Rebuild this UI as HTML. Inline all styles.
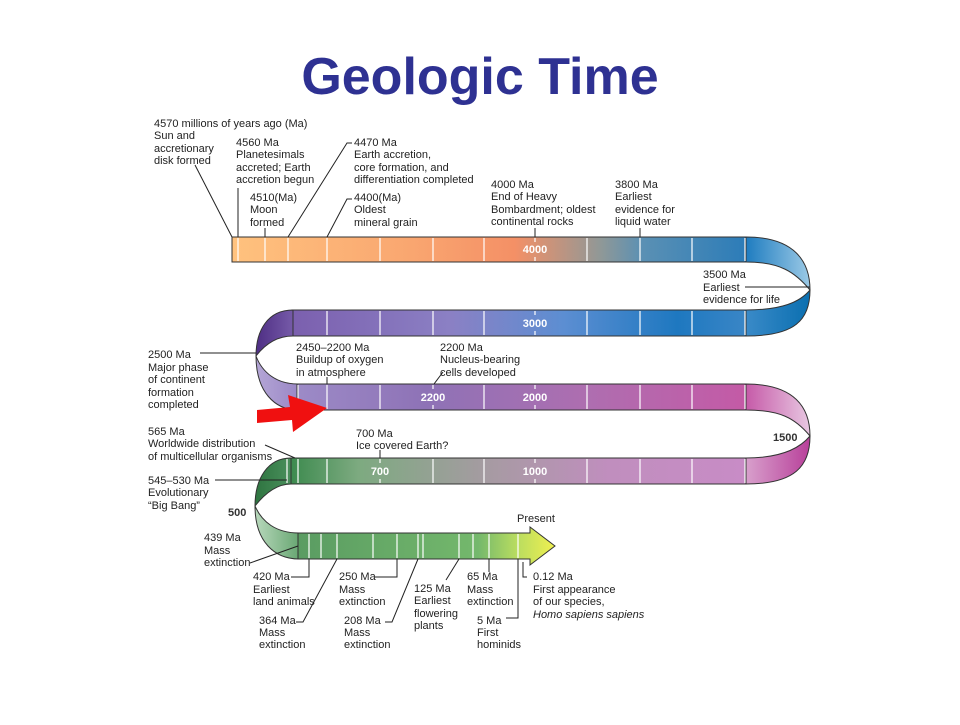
<!DOCTYPE html>
<html><head><meta charset="utf-8"><style>
html,body{margin:0;padding:0;background:#fff;}
svg text{font-family:"Liberation Sans",sans-serif;}
</style></head><body>
<svg width="960" height="720" viewBox="0 0 960 720" xmlns="http://www.w3.org/2000/svg">
<defs>
<linearGradient id="g1" gradientUnits="userSpaceOnUse" x1="232" y1="0" x2="746" y2="0">
<stop offset="0" stop-color="#FFC27E"/><stop offset="0.35" stop-color="#F9A670"/><stop offset="0.55" stop-color="#F49066"/><stop offset="0.72" stop-color="#8E9898"/><stop offset="0.8" stop-color="#5A90B4"/><stop offset="1" stop-color="#2C7CB8"/></linearGradient>
<linearGradient id="g1c" gradientUnits="userSpaceOnUse" x1="746" y1="0" x2="810" y2="0">
<stop offset="0" stop-color="#1E7CC0"/><stop offset="1" stop-color="#9CCAE6"/></linearGradient>
<linearGradient id="g2c" gradientUnits="userSpaceOnUse" x1="746" y1="0" x2="810" y2="0">
<stop offset="0" stop-color="#3A8AC8"/><stop offset="1" stop-color="#0A6FB0"/></linearGradient>
<linearGradient id="g2" gradientUnits="userSpaceOnUse" x1="290" y1="0" x2="746" y2="0">
<stop offset="0" stop-color="#7B5FAE"/><stop offset="0.35" stop-color="#8B80C4"/><stop offset="0.6" stop-color="#5C8ED2"/><stop offset="0.85" stop-color="#1E78C0"/><stop offset="1" stop-color="#3A86C6"/></linearGradient>
<linearGradient id="gl1" gradientUnits="userSpaceOnUse" x1="256" y1="0" x2="297" y2="0">
<stop offset="0" stop-color="#4E2E84"/><stop offset="1" stop-color="#7A5FAC"/></linearGradient>
<linearGradient id="gl2" gradientUnits="userSpaceOnUse" x1="256" y1="0" x2="297" y2="0">
<stop offset="0" stop-color="#B4A6D6"/><stop offset="1" stop-color="#9B88C6"/></linearGradient>
<linearGradient id="g3" gradientUnits="userSpaceOnUse" x1="290" y1="0" x2="746" y2="0">
<stop offset="0" stop-color="#9D8CC8"/><stop offset="0.3" stop-color="#8E72B6"/><stop offset="0.65" stop-color="#AE6EB0"/><stop offset="1" stop-color="#C45AA6"/></linearGradient>
<linearGradient id="g3c" gradientUnits="userSpaceOnUse" x1="746" y1="0" x2="810" y2="0">
<stop offset="0" stop-color="#C65AA8"/><stop offset="1" stop-color="#E8C8E2"/></linearGradient>
<linearGradient id="g4c" gradientUnits="userSpaceOnUse" x1="746" y1="0" x2="810" y2="0">
<stop offset="0" stop-color="#D8A0CC"/><stop offset="1" stop-color="#B8409A"/></linearGradient>
<linearGradient id="g4" gradientUnits="userSpaceOnUse" x1="290" y1="0" x2="746" y2="0">
<stop offset="0" stop-color="#3C8A4E"/><stop offset="0.15" stop-color="#7DAA80"/><stop offset="0.45" stop-color="#A89AA4"/><stop offset="0.7" stop-color="#C08EBE"/><stop offset="1" stop-color="#C88CC6"/></linearGradient>
<linearGradient id="gl3" gradientUnits="userSpaceOnUse" x1="255" y1="0" x2="297" y2="0">
<stop offset="0" stop-color="#2E7440"/><stop offset="1" stop-color="#4E9460"/></linearGradient>
<linearGradient id="gl4" gradientUnits="userSpaceOnUse" x1="255" y1="0" x2="298" y2="0">
<stop offset="0" stop-color="#B8D8BC"/><stop offset="1" stop-color="#6AA874"/></linearGradient>
<linearGradient id="g5" gradientUnits="userSpaceOnUse" x1="298" y1="0" x2="555" y2="0">
<stop offset="0" stop-color="#5A9C62"/><stop offset="0.7" stop-color="#74B86C"/><stop offset="0.85" stop-color="#B8DC60"/><stop offset="1" stop-color="#F0F050"/></linearGradient>
</defs>

<text x="480" y="94" text-anchor="middle" font-size="52" font-weight="bold" fill="#2E3192">Geologic Time</text>

<g stroke="#333" stroke-width="1">
<rect x="232" y="237" width="514" height="25" fill="url(#g1)"/>
<path d="M746,237 C795,237 810,262 810,290 C795,272 780,262 746,262 Z" fill="url(#g1c)"/>
<path d="M810,290 C810,320 795,336 746,336 L746,310 C782,310 800,302 810,290 Z" fill="url(#g2c)"/>
<rect x="292" y="310" width="454" height="26" fill="url(#g2)"/>
<path d="M293,310 C268,310 256,330 256,356 C266,343 278,336 293,336 Z" fill="url(#gl1)"/>
<path d="M256,356 C256,392 275,410 298,410 L298,384 C276,384 262,372 256,356 Z" fill="url(#gl2)"/>
<rect x="297" y="384" width="449" height="26" fill="url(#g3)"/>
<path d="M746,384 C795,384 810,408 810,436 C795,418 780,410 746,410 Z" fill="url(#g3c)"/>
<path d="M810,436 C810,466 795,484 746,484 L746,458 C782,458 800,448 810,436 Z" fill="url(#g4c)"/>
<rect x="290" y="458" width="456" height="26" fill="url(#g4)"/>
<path d="M291,458 C268,458 255,478 255,506 C266,492 278,484 291,484 Z" fill="url(#gl3)"/>
<path d="M255,506 C255,542 275,559 299,559 L299,533 C276,533 262,522 255,506 Z" fill="url(#gl4)"/>
<path d="M298,533 L530,533 L530,527 L555,546 L530,565 L530,559 L298,559 Z" fill="url(#g5)"/>
</g>

<g stroke="#fff" stroke-width="1.2">
<path d="M238,238V261M265,238V261M288,238V261M327,238V261M380,238V261M433,238V261M484,238V261M587,238V261M640,238V261M692,238V261M745,238V261"/>
<path d="M327,311V335M380,311V335M433,311V335M484,311V335M587,311V335M640,311V335M692,311V335M745,311V335"/>
<path d="M298,385V409M327,385V409M380,385V409M484,385V409M587,385V409M640,385V409M692,385V409M745,385V409"/>
<path d="M287,459V483M298,459V483M327,459V483M433,459V483M484,459V483M587,459V483M640,459V483M692,459V483M745,459V483"/>
<path d="M309,534V558M321,534V558M337,534V558M373,534V558M397,534V558M418,534V558M423,534V558M459,534V558M473,534V558M489,534V558M518,534V558"/>
<path d="M535,238V242M535,257V261M535,311V315M535,331V335M433,385V389M433,405V409M535,385V389M535,405V409M380,459V463M380,479V483M535,459V463M535,479V483"/>
</g>
<g fill="#fff" font-size="11" font-weight="bold" text-anchor="middle">
<text x="535" y="253">4000</text><text x="535" y="327">3000</text>
<text x="433" y="401">2200</text><text x="535" y="401">2000</text>
<text x="380" y="475">700</text><text x="535" y="475">1000</text>
</g>

<polygon points="257,410 290,407 288,395 327,408 293,432 292,420 257,423" fill="#F01010"/>

<g stroke="#222" stroke-width="1" fill="none">
<path d="M195,165 L232,237"/>
<path d="M238,188 V237"/>
<path d="M352,143 H347 L288,237"/>
<path d="M352,199 H347 L327,237"/>
<path d="M265,228 V237"/>
<path d="M535,228 V237"/><path d="M640,228 V237"/>
<path d="M745,287 H810"/>
<path d="M200,353 H256"/>
<path d="M327,377 V384"/>
<path d="M443,372 L434,384"/>
<path d="M265,445 L295,458"/>
<path d="M380,450 V458"/>
<path d="M215,480 H287"/>
<path d="M250,563 L298,546"/>
<path d="M291,577 H309 V559"/>
<path d="M296,622 H303 L337,559"/>
<path d="M375,577 H397 V559"/>
<path d="M385,622 H392 L418,559"/>
<path d="M446,580 L459,559"/>
<path d="M489,559 V572"/>
<path d="M506,618 H518 V559"/>
<path d="M523,562 V577 H527"/>
</g>

<g fill="#222" font-size="11">
<text x="154" y="127">4570 millions of years ago (Ma)</text>
<text x="154" y="139">Sun and</text><text x="154" y="152">accretionary</text><text x="154" y="164">disk formed</text>
<text x="236" y="146">4560 Ma</text><text x="236" y="158">Planetesimals</text><text x="236" y="171">accreted; Earth</text><text x="236" y="183">accretion begun</text>
<text x="354" y="146">4470 Ma</text><text x="354" y="158">Earth accretion,</text><text x="354" y="171">core formation, and</text><text x="354" y="183">differentiation completed</text>
<text x="250" y="201">4510(Ma)</text><text x="250" y="213">Moon</text><text x="250" y="226">formed</text>
<text x="354" y="201">4400(Ma)</text><text x="354" y="213">Oldest</text><text x="354" y="226">mineral grain</text>
<text x="491" y="188">4000 Ma</text><text x="491" y="200">End of Heavy</text><text x="491" y="213">Bombardment; oldest</text><text x="491" y="225">continental rocks</text>
<text x="615" y="188">3800 Ma</text><text x="615" y="200">Earliest</text><text x="615" y="213">evidence for</text><text x="615" y="225">liquid water</text>
<text x="703" y="278">3500 Ma</text><text x="703" y="291">Earliest</text><text x="703" y="303">evidence for life</text>
<text x="148" y="358">2500 Ma</text><text x="148" y="371">Major phase</text><text x="148" y="383">of continent</text><text x="148" y="396">formation</text><text x="148" y="408">completed</text>
<text x="296" y="351">2450–2200 Ma</text><text x="296" y="363">Buildup of oxygen</text><text x="296" y="376">in atmosphere</text>
<text x="440" y="351">2200 Ma</text><text x="440" y="363">Nucleus-bearing</text><text x="440" y="376">cells developed</text>
<text x="148" y="435">565 Ma</text><text x="148" y="447">Worldwide distribution</text><text x="148" y="460">of multicellular organisms</text>
<text x="356" y="437">700 Ma</text><text x="356" y="449">Ice covered Earth?</text>
<text x="773" y="441" font-weight="bold" fill="#333">1500</text>
<text x="148" y="484">545–530 Ma</text><text x="148" y="496">Evolutionary</text><text x="148" y="509">“Big Bang”</text>
<text x="228" y="516" font-weight="bold" fill="#333">500</text>
<text x="517" y="522">Present</text>
<text x="204" y="541">439 Ma</text><text x="204" y="554">Mass</text><text x="204" y="566">extinction</text>
<text x="253" y="580">420 Ma</text><text x="253" y="593">Earliest</text><text x="253" y="605">land animals</text>
<text x="259" y="624">364 Ma</text><text x="259" y="636">Mass</text><text x="259" y="648">extinction</text>
<text x="339" y="580">250 Ma</text><text x="339" y="593">Mass</text><text x="339" y="605">extinction</text>
<text x="344" y="624">208 Ma</text><text x="344" y="636">Mass</text><text x="344" y="648">extinction</text>
<text x="414" y="592">125 Ma</text><text x="414" y="604">Earliest</text><text x="414" y="617">flowering</text><text x="414" y="629">plants</text>
<text x="467" y="580">65 Ma</text><text x="467" y="593">Mass</text><text x="467" y="605">extinction</text>
<text x="477" y="624">5 Ma</text><text x="477" y="636">First</text><text x="477" y="648">hominids</text>
<text x="533" y="580">0.12 Ma</text><text x="533" y="593">First appearance</text><text x="533" y="605">of our species,</text><text x="533" y="618" font-style="italic">Homo sapiens sapiens</text>
</g>
</svg>
</body></html>
